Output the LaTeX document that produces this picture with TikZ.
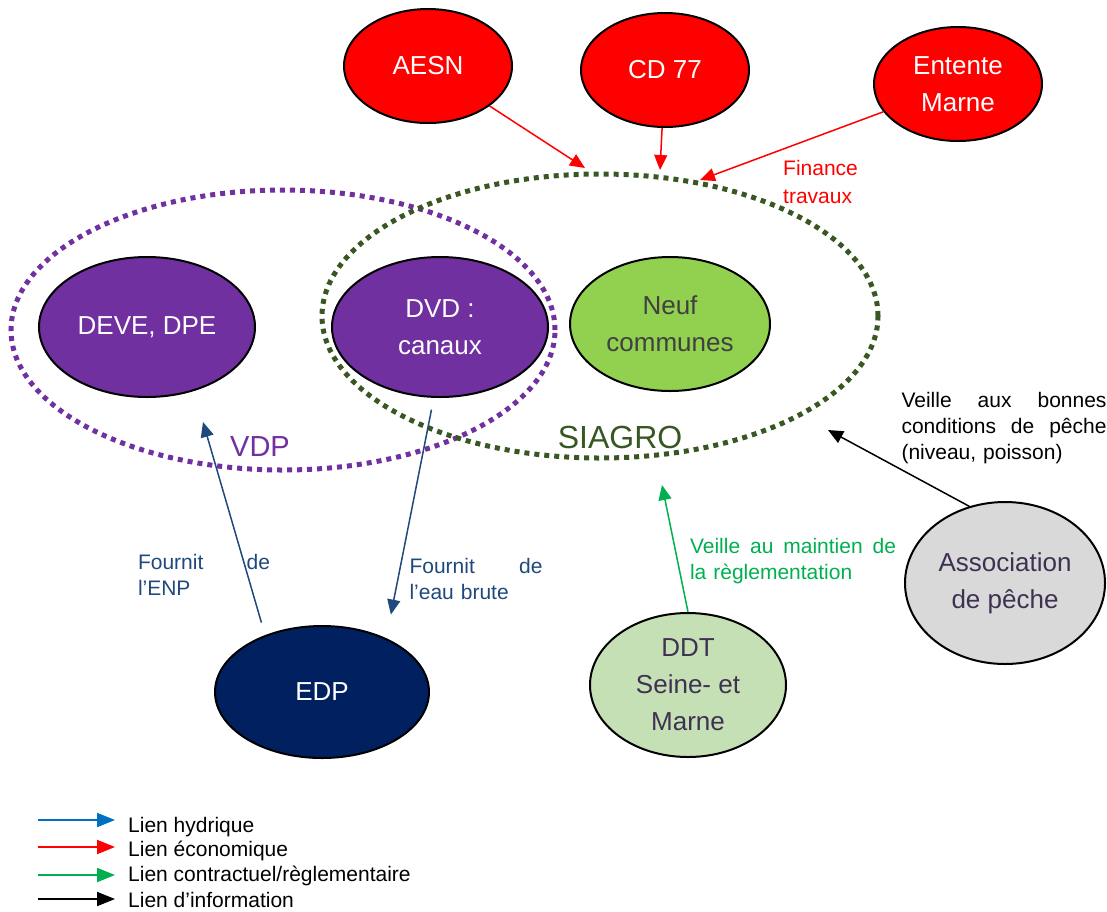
\documentclass[tikz,border=0pt]{standalone}
\usepackage{fontspec}
\setmainfont{Liberation Sans}
\usepackage{tikz}
\usetikzlibrary{shapes.geometric, arrows.meta, positioning}
\definecolor{vdpviolet}{HTML}{7030A0}
\definecolor{siagrovert}{HTML}{385723}
\definecolor{ecored}{HTML}{FF0000}
\definecolor{hydrobleu}{HTML}{1F497D}
\definecolor{hydrolegende}{HTML}{0070C0}
\definecolor{reglvert}{HTML}{00B050}
\definecolor{communevert}{HTML}{92D050}
\definecolor{edpbleu}{HTML}{002060}
\definecolor{ddtvert}{HTML}{C5E0B4}
\definecolor{assogris}{HTML}{D9D9D9}
\definecolor{textesombre}{HTML}{3F3151}
\tikzset{
  orga/.style={ellipse, draw=black, line width=2pt, inner sep=0pt,
               align=center, text=white,
               font=\fontsize{26}{37}\selectfont},
  orgared/.style={orga, fill=ecored, minimum width=168pt, minimum height=114pt},
  orgaviolet/.style={orga, fill=vdpviolet, minimum width=216pt, minimum height=140pt},
  orgagreen/.style={orga, fill=communevert, text=black!75},
  orgablue/.style={orga, fill=edpbleu},
  orgapale/.style={orga, fill=ddtvert, text=textesombre},
  orgagray/.style={orga, fill=assogris, text=textesombre},
  perim/.style={ellipse, line width=5pt, dash pattern=on 5pt off 5pt,
                inner sep=0pt},
  annot/.style={inner sep=0pt, align=left, font=\fontsize{21}{26}\selectfont},
  legende/.style={inner sep=0pt, anchor=west, font=\fontsize{21}{24}\selectfont},
  arrowred/.style={-{Triangle[length=15pt, width=13pt]}, line width=1.5pt, draw=ecored},
  arrowblue/.style={-{Triangle[length=15pt, width=13pt]}, line width=1.5pt, draw=hydrobleu},
  arrowgreen/.style={-{Triangle[length=15pt, width=13pt]}, line width=1.5pt, draw=reglvert},
  arrowblack/.style={-{Triangle[length=15pt, width=13pt]}, line width=1.5pt, draw=black},
  legarrow/.style={-{Triangle[length=18pt, width=14pt]}, line width=2pt},
}

\begin{document}
\begin{tikzpicture}[x=1pt, y=-1pt]
  \useasboundingbox (0,0) rectangle (1107,911);

  % perimetres VDP / SIAGRO
  \node[perim, draw=vdpviolet, minimum width=544pt, minimum height=280pt]
    (vdp) at (283,330) {};
  \node[perim, draw=siagrovert, minimum width=556pt, minimum height=284pt]
    (siagro) at (600,316) {};
  \node[text=vdpviolet, font=\fontsize{29}{34}\selectfont] (vdplab) at (260,447) {VDP};
  \node[text=siagrovert, font=\fontsize{32}{38}\selectfont] (siagrolab) at (620,437) {SIAGRO};

  % financeurs
  \node[orgared] (aesn) at (428,66) {AESN};
  \node[orgared] (cd77) at (665,70) {CD 77};
  \node[orgared] (entente) at (958,84) {Entente\\Marne};

  % acteurs des perimetres
  \node[orgaviolet] (deve) at (147,327) {DEVE, DPE};
  \node[orgaviolet] (dvd) at (440,327) {DVD :\\canaux};
  \node[orgagreen, minimum width=200pt, minimum height=134pt]
    (neuf) at (670,324) {Neuf\\communes};

  % autres acteurs
  \node[orgablue, minimum width=214pt, minimum height=132pt] (edp) at (322,692) {EDP};
  \node[orgapale, minimum width=196pt, minimum height=144pt]
    (ddt) at (688,685) {DDT\\Seine- et\\Marne};
  \node[orgagray, minimum width=200pt, minimum height=162pt]
    (asso) at (1005,583) {Association\\de pêche};

  % extremites libres
  \coordinate (finA) at (585,168);
  \coordinate (finB) at (660,170);
  \coordinate (finC) at (700,180);
  \coordinate (enp) at (203,422);
  \coordinate (regl) at (662,485);
  \coordinate (info) at (828,430);

  \draw[arrowred] (aesn) -- (finA);
  \draw[arrowred] (cd77) -- (finB);
  \draw[arrowred] (entente) -- (finC);
  \draw[arrowblue, shorten <=13pt] (edp.135) -- (enp);
  \draw[arrowblue, shorten <=12pt, shorten >=24pt] (dvd.-95) -- (edp.40);
  \draw[arrowgreen] (ddt.north) -- (regl);
  \draw[arrowblack] (asso.115) -- (info);

  % etiquettes
  \node[annot, text=ecored, font=\fontsize{21}{28}\selectfont, anchor=west]
    (finlab) at (783,182) {Finance\\travaux};
  \node[annot, text=hydrobleu, text width=132pt] (enplab) at (204,575)
    {Fournit\hfill de\\l’ENP};
  \node[annot, text=hydrobleu, text width=133pt] (eaulab) at (476,579)
    {Fournit\hfill de\\l’eau brute};
  \node[annot, text=reglvert, text width=206pt] (regllab) at (793,561)
    {Veille\hfill au\hfill maintien\hfill de\\la règlementation};
  \node[annot, text width=205pt] (infolab) at (1004,428)
    {Veille\hfill aux\hfill bonnes\\conditions\hfill de\hfill pêche\\(niveau, poisson)};

  % legende
  \foreach \ay/\ty/\c/\t [count=\i] in {820/827/hydrolegende/Lien hydrique,
      847/851/ecored/Lien économique,
      875/876/reglvert/{Lien contractuel/règlementaire},
      899/900/black/Lien d’information} {
    \node[legende] (leg\i) at (128,\ty) {\t};
    \coordinate (legd\i) at (38,\ay);
    \coordinate (legf\i) at (115,\ay);
    \draw[legarrow, draw=\c] (legd\i) -- (legf\i);
  }
\end{tikzpicture}
\end{document}
